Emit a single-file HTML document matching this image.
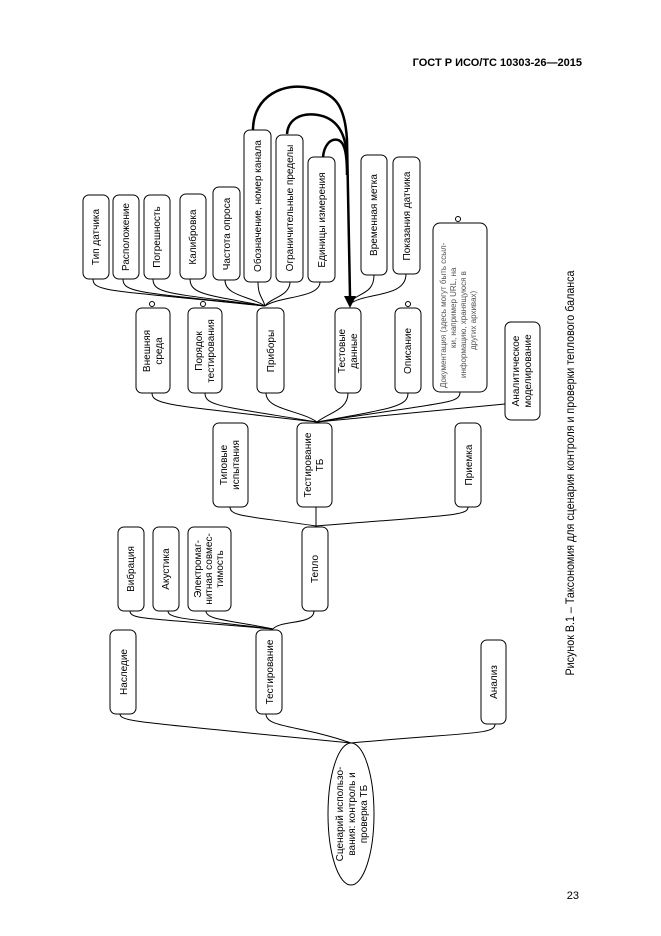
<!DOCTYPE html>
<html><head><meta charset="utf-8"><style>
html,body{margin:0;padding:0;background:#fff;}
svg{display:block;}
text{font-family:"Liberation Sans",sans-serif;fill:#000;}
</style></head><body>
<svg width="661" height="936" viewBox="0 0 661 936" xmlns="http://www.w3.org/2000/svg">
<text x="582" y="66" font-size="11" font-weight="bold" text-anchor="end">ГОСТ Р ИСО/ТС 10303-26—2015</text>
<text x="579" y="899" font-size="11" text-anchor="end">23</text>
<text transform="translate(574,473) rotate(-90)" font-size="11.5" text-anchor="middle" textLength="405" lengthAdjust="spacingAndGlyphs">Рисунок В.1 – Таксономия для сценария контроля и проверки теплового баланса</text>

<g fill="none" stroke="#000" stroke-width="1">
<rect x="83" y="195" width="26" height="84" rx="6"/>
<rect x="113" y="195" width="26" height="84" rx="6"/>
<rect x="144" y="195" width="26" height="84" rx="6"/>
<rect x="180" y="194" width="26" height="85" rx="6"/>
<rect x="213" y="187" width="27" height="93" rx="6"/>
<rect x="244" y="130" width="27" height="152" rx="6"/>
<rect x="276" y="135" width="27" height="147" rx="6"/>
<rect x="308" y="157" width="27" height="125" rx="6"/>
<rect x="361" y="155" width="26" height="120" rx="6"/>
<rect x="393" y="157" width="27" height="117" rx="6"/>
<rect x="433" y="223" width="54" height="169" rx="7"/>
<circle cx="458" cy="219" r="2.5"/>
<rect x="136" y="308" width="34" height="85" rx="6"/><circle cx="152" cy="304" r="2.5"/>
<rect x="188" y="308" width="34" height="85" rx="6"/><circle cx="203" cy="304" r="2.5"/>
<rect x="257" y="308" width="27" height="85" rx="6"/>
<rect x="335" y="308" width="26" height="85" rx="6"/>
<rect x="395" y="308" width="26" height="85" rx="6"/><circle cx="408" cy="304" r="2.5"/>
<rect x="505" y="322" width="35" height="98" rx="6"/>
<rect x="213" y="423" width="35" height="84" rx="6"/>
<rect x="297" y="423" width="35" height="84" rx="6"/>
<rect x="455" y="423" width="26" height="84" rx="6"/>
<rect x="118" y="527" width="26" height="84" rx="6"/>
<rect x="153" y="527" width="26" height="84" rx="6"/>
<rect x="188" y="527" width="43" height="84" rx="6"/>
<rect x="302" y="527" width="26" height="84" rx="6"/>
<rect x="110" y="630" width="26" height="84" rx="6"/>
<rect x="256" y="630" width="26" height="84" rx="6"/>
<rect x="481" y="640" width="25" height="84" rx="6"/>
<ellipse cx="351" cy="814" rx="23" ry="71"/>

<path d="M93,279 C93,292 110,290 265,306"/>
<path d="M123,279 C123,293 140,292 265,306"/>
<path d="M153,279 C153,294 170,293 265,306"/>
<path d="M190,279 C190,295 210,295 265,306"/>
<path d="M225,280 C225,296 250,296 265,306"/>
<path d="M258,282 C258,296 263,298 265,306"/>
<path d="M290,282 C290,296 270,298 265,306"/>
<path d="M320,282 C320,298 280,296 265,306"/>
<path d="M374,275 C374,296 355,292 350,304"/>
<path d="M406,274 C406,298 365,292 350,304"/>
<path d="M152,393 C152,405 170,405 317,422"/>
<path d="M205,393 C205,406 220,406 317,422"/>
<path d="M266,393 C266,410 300,410 317,422"/>
<path d="M348,393 C348,410 330,412 317,422"/>
<path d="M408,393 C408,406 395,408 317,422"/>
<path d="M460,392 C460,404 445,402 317,422"/>
<path d="M505,404 L317,422"/>
<path d="M230,507 C230,517 250,516 316,526"/>
<path d="M316,507 L316,527"/>
<path d="M468,507 C468,516 450,515 316,526"/>
<path d="M130,611 C130,620 150,618 273,629"/>
<path d="M168,611 C168,619 190,619 273,629"/>
<path d="M206,611 C206,620 230,620 273,629"/>
<path d="M314,611 C314,625 280,620 273,629"/>
<path d="M120,714 C120,722 140,722 351,743"/>
<path d="M266,714 C266,728 300,725 351,743"/>
<path d="M495,724 C495,735 470,732 351,743"/>
</g>
<g fill="none" stroke="#000" stroke-width="2.5">
<path d="M253,130 C253,95 285,82 310,88 C335,93 345,105 347,140 L350,296"/>
<path d="M287,134 C288,120 300,112 318,115 C335,118 345,130 347,155"/>
<path d="M323,157 C324,146 330,138 338,140 C345,142 347,155 347,175"/>
</g>
<path d="M344,296 L356,296 L350,308 Z" fill="#000"/>

<g font-size="10" text-anchor="middle">
<text transform="translate(99,237) rotate(-90)">Тип датчика</text>
<text transform="translate(129,237) rotate(-90)">Расположение</text>
<text transform="translate(160,237) rotate(-90)">Погрешность</text>
<text transform="translate(196,237) rotate(-90)">Калибровка</text>
<text transform="translate(230,234) rotate(-90)">Частота опроса</text>
<text transform="translate(261,206) rotate(-90)">Обозначение,  номер канала</text>
<text transform="translate(293,208) rotate(-90)">Ограничительные пределы</text>
<text transform="translate(325,220) rotate(-90)">Единицы измерения</text>
<text transform="translate(377,215) rotate(-90)">Временная метка</text>
<text transform="translate(410,216) rotate(-90)">Показания датчика</text>
<text transform="translate(150,351) rotate(-90)"><tspan x="0" y="0">Внешняя</tspan><tspan x="0" y="12">среда</tspan></text>
<text transform="translate(202,351) rotate(-90)"><tspan x="0" y="0">Порядок</tspan><tspan x="0" y="12">тестирования</tspan></text>
<text transform="translate(274,351) rotate(-90)">Приборы</text>
<text transform="translate(345,351) rotate(-90)"><tspan x="0" y="0">Тестовые</tspan><tspan x="0" y="12">данные</tspan></text>
<text transform="translate(411,351) rotate(-90)">Описание</text>
<text transform="translate(519,371) rotate(-90)"><tspan x="0" y="0">Аналитическое</tspan><tspan x="0" y="12">моделирование</tspan></text>
<text transform="translate(227,465) rotate(-90)"><tspan x="0" y="0">Типовые</tspan><tspan x="0" y="12">испытания</tspan></text>
<text transform="translate(311,465) rotate(-90)"><tspan x="0" y="0">Тестирование</tspan><tspan x="0" y="12">ТБ</tspan></text>
<text transform="translate(472,465) rotate(-90)">Приемка</text>
<text transform="translate(134,569) rotate(-90)">Вибрация</text>
<text transform="translate(169,569) rotate(-90)">Акустика</text>
<text transform="translate(201,569) rotate(-90)"><tspan x="0" y="0">Электромаг-</tspan><tspan x="0" y="11">нитная совмес-</tspan><tspan x="0" y="22">тимость</tspan></text>
<text transform="translate(318,569) rotate(-90)">Тепло</text>
<text transform="translate(127,672) rotate(-90)">Наследие</text>
<text transform="translate(273,672) rotate(-90)">Тестирование</text>
<text transform="translate(497,682) rotate(-90)">Анализ</text>
<text transform="translate(343,814) rotate(-90)"><tspan x="0" y="0">Сценарий использо-</tspan><tspan x="0" y="12">вания: контроль и</tspan><tspan x="0" y="24">проверка ТБ</tspan></text>
</g>
<text transform="translate(446,388) rotate(-90)" font-size="8" style="fill:#555"><tspan x="0" y="0">Документация (здесь могут быть ссыл-</tspan><tspan x="40" y="10">ки, например URL, на</tspan><tspan x="10" y="20">информацию, хранящуюся в</tspan><tspan x="38" y="30">других архивах)</tspan></text>
</svg>
</body></html>
